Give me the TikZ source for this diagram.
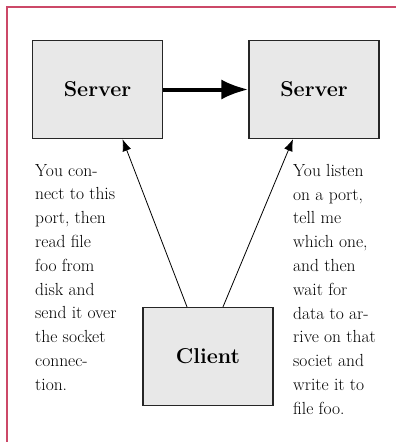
\documentclass[tikz,border=0pt]{standalone}
\usetikzlibrary{arrows.meta}
\definecolor{framered}{RGB}{204,72,104}
\definecolor{boxgray}{RGB}{232,232,232}
\begin{document}
\begin{tikzpicture}[x=1pt,y=-1pt,
    box/.style={draw=black!85,fill=boxgray,line width=1.2pt,minimum width=130pt,minimum height=98pt,inner sep=0pt,font=\fontsize{21.5}{24}\selectfont\bfseries},
    note/.style={align=left,inner sep=0pt,anchor=north west,font=\fontsize{17.5}{23.8}\selectfont},
    link/.style={-{Latex[length=12pt,width=9pt]},line width=0.8pt}]
    \useasboundingbox (0,0) rectangle (396,442);
    \draw[framered,line width=1.5pt] (396,7) -- (7,7) -- (7,442);

    \node[box] (server1) at (97.5,89.5) {Server};
    \node[box] (server2) at (314,89.5) {Server};
    \node[box] (client) at (208,356.5) {Client};

    \draw[-{Latex[length=27pt,width=20pt]},line width=4pt] (server1) -- (server2);
    \draw[link] ([xshift=-21pt]client.north) -- ([xshift=25pt]server1.south);
    \draw[link] ([xshift=15pt]client.north) -- ([xshift=-21pt]server2.south);

    \node[note] (lefttext) at (35,164) {You con-\\nect to this\\port, then\\read file\\foo from\\disk and\\send it over\\the socket\\connec-\\tion.};
    \node[note] (righttext) at (293,164) {You listen\\on a port,\\tell me\\which one,\\and then\\wait for\\data to ar-\\rive on that\\societ and\\write it to\\file foo.};
\end{tikzpicture}
\end{document}
